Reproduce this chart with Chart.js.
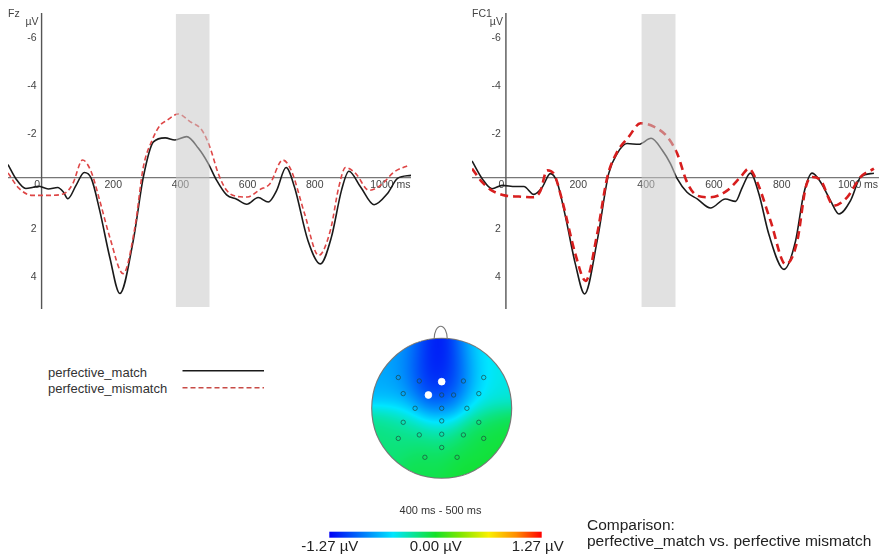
<!DOCTYPE html>
<html>
<head>
<meta charset="utf-8">
<script src="https://cdn.jsdelivr.net/npm/chart.js@4.4.1/dist/chart.umd.min.js"></script>
<style>
  body { margin: 0; background: #fff; width: 881px; height: 558px; overflow: hidden; position: relative;
         font-family: "Liberation Sans", Arial, sans-serif; color: #333; }
  .box { position: absolute; }
  .legtxt { position: absolute; left: 48px; font-size: 13px; line-height: 16px; }
  .cmp { position: absolute; left: 587px; top: 517px; font-size: 15.5px; line-height: 15.5px; color: #222; }
</style>
</head>
<body>
<div class="box" style="left:0;top:0;width:420px;height:320px"><canvas id="fz"></canvas></div>
<div class="box" style="left:440px;top:0;width:441px;height:320px"><canvas id="fc1"></canvas></div>
<div class="box" style="left:290px;top:320px;width:300px;height:238px"><canvas id="topo"></canvas></div>

<div class="legtxt" style="top:365px">perfective_match</div>
<div class="legtxt" style="top:381px">perfective_mismatch</div>
<svg class="box" style="left:182px;top:364px" width="84" height="30">
  <line x1="0.5" y1="6.7" x2="82" y2="6.7" stroke="#1a1a1a" stroke-width="1.6"/>
  <line x1="0.5" y1="23.7" x2="82" y2="23.7" stroke="rgb(200,75,70)" stroke-width="1.5" stroke-dasharray="5,3"/>
</svg>
<div class="cmp">Comparison:<br>perfective_match vs. perfective mismatch</div>

<script>
// ERP waveforms, [ms, µV] pairs (negative is plotted up)
const fzMatch = [[-100,-0.55],[-77,0.03],[-47,0.45],[-25,0.4],[-10,0.36],[20,0.47],[48,0.41],[65,0.6],[78,0.88],
  [103,0.31],[127,-0.22],[148,0.03],[173,1.37],[203,3.33],[233,4.85],[273,2.63],[303,-0.03],[333,-1.5],[368,-1.67],
  [397,-1.58],[432,-1.72],[467,-1.23],[496,-0.6],[521,0.1],[551,0.72],[581,0.9],[611,1.11],[645,0.83],[675,1.02],
  [700,0.53],[728,-0.43],[753,0.39],[793,2.63],[830,3.61],[863,2.49],[893,0.53],[915,-0.27],[950,0.39],[990,1.13],
  [1030,0.66],[1060,0.03],[1100,-0.1]];
const fzMismatch = [[-100,-0.2],[-67,0.45],[-27,0.74],[23,0.74],[68,0.66],[93,0.25],[122,-0.74],[148,-0.24],
  [173,0.95],[203,2.49],[243,4.02],[278,2.07],[303,-0.45],[330,-1.6],[353,-2.2],[373,-2.4],[407,-2.67],[442,-2.35],
  [477,-2.0],[501,-1.29],[526,-0.18],[551,0.53],[591,0.8],[613,0.81],[650,0.5],[680,0.25],[718,-0.74],[743,-0.32],
  [783,1.5],[825,3.26],[860,2.2],[885,0.39],[905,-0.43],[935,-0.18],[975,0.53],[1010,0.31],[1050,-0.24],[1095,-0.53]];
const fc1Match = [[-100,-0.7],[-70,0.04],[-41,0.46],[-11,0.32],[28,0.37],[53,0.37],[82,0.7],[107,0.4],[131,-0.17],
  [151,0.19],[176,1.66],[205,3.63],[232,4.87],[269,2.65],[303,-0.17],[328,-1.01],[357,-1.43],[392,-1.4],[428,-1.65],
  [461,-1.15],[485,-0.59],[505,0.04],[534,0.61],[564,0.89],[603,1.27],[647,0.89],[677,0.99],[697,0.4],[721,-0.19],
  [746,0.68],[775,2.36],[820,3.84],[854,2.65],[878,0.68],[903,-0.19],[928,0.19],[957,0.96],[982,1.52],[1016,0.96],
  [1046,-0.03],[1085,-0.19]];
const fc1Mismatch = [[-100,-0.38],[-70,0.19],[-41,0.54],[-1,0.75],[38,0.79],[82,0.82],[102,0.54],[121,-0.31],
  [141,-0.17],[166,0.96],[205,3.21],[235,4.32],[269,2.36],[299,-0.03],[328,-1.08],[362,-1.71],[397,-2.28],[436,-2.14],
  [476,-1.71],[505,-1.01],[534,0.19],[564,0.75],[603,0.82],[652,0.54],[692,-0.03],[716,-0.38],[741,0.19],[780,1.8],
  [825,3.63],[859,2.65],[884,0.4],[903,-0.03],[928,0.11],[967,1.17],[1006,0.82],[1046,-0.03],[1085,-0.38]];

const xTicks = [0, 200, 400, 600, 800, 1000];
const yTicks = [-6, -4, -2, 2, 4];
const timeWin = [400, 500];

// electrodes on the head (unit circle, nose up) and difference values in µV
const elecX = [-0.62,-0.32,0,0.31,0.6, -0.55,-0.19,0,0.17,0.53, -0.38,0,0.36, -0.55,0,0.53, -0.62,-0.32,0,0.31,0.6, 0, -0.24,0.22];
const elecY = [0.44,0.39,0.38,0.39,0.44, 0.21,0.19,0.19,0.19,0.21, 0,0,0, -0.2,-0.18,-0.2, -0.43,-0.38,-0.37,-0.38,-0.43, -0.56, -0.7,-0.7];
const elecVal = [-0.72,-1.1,-1.27,-0.95,-0.45, -0.62,-1.1,-1.1,-0.95,-0.4, -0.58,-0.8,-0.5, -0.28,-0.5,-0.12,
  -0.18,-0.22,-0.3,-0.12,-0.03, -0.15, -0.08,-0.02];
const elecMarked = [2, 6]; // Fz, FC1
const mapMin = -1.27, mapMax = 1.27;
const barLabels = ['-1.27 µV', '0.00 µV', '1.27 µV'];
const mapStops = [0, 0.3, 0.5, 0.62, 0.75, 0.88, 1];
const mapColors = [[0,0,245],[0,230,255],[20,225,40],[130,230,0],[250,240,0],[255,140,0],[255,0,0]];

const FONT = '"Liberation Sans", Arial, sans-serif';

const erpPlugin = {
  id: 'erp',
  beforeDatasetsDraw(chart, args, opts) {
    const {ctx, chartArea: a, scales: {x, y}} = chart;
    const x0 = x.getPixelForValue(0), y0 = y.getPixelForValue(0);
    ctx.save();
    ctx.strokeStyle = '#555';
    ctx.lineWidth = 1;
    ctx.beginPath(); ctx.moveTo(a.left, y0); ctx.lineTo(a.right, y0); ctx.stroke();
    ctx.lineWidth = 1.4;
    ctx.beginPath(); ctx.moveTo(x0, a.top); ctx.lineTo(x0, a.bottom); ctx.stroke();

    ctx.fillStyle = '#444';
    ctx.font = '10.5px ' + FONT;
    ctx.textBaseline = 'middle';
    ctx.textAlign = 'right';
    yTicks.forEach(v => ctx.fillText(String(v), x0 - 5, y.getPixelForValue(v) + 4));
    ctx.textAlign = 'center';
    xTicks.forEach(t => ctx.fillText(String(t), x.getPixelForValue(t) + (t === 0 ? -4.5 : 4.5), y0 + 7));
    ctx.textAlign = 'left';
    ctx.fillText('ms', x.getPixelForValue(1000) + 19, y0 + 7);
    ctx.fillText(opts.title, a.left, 14);
    ctx.textAlign = 'right';
    ctx.fillText('µV', x0 - 3, 22);
    ctx.restore();
  },
  afterDatasetsDraw(chart) {
    const {ctx, chartArea: a, scales: {x}} = chart;
    const l = x.getPixelForValue(timeWin[0]), r = x.getPixelForValue(timeWin[1]);
    ctx.save();
    ctx.fillStyle = 'rgba(200,200,200,0.55)';
    ctx.fillRect(l, a.top + 1, r - l, a.bottom - a.top - 3);
    ctx.restore();
  }
};

function toXY(arr) { return arr.map(([t, v]) => ({x: t, y: v})); }

function makeErp(id, title, match, mismatch, red, redWidth, redDash, pad, xMax) {
  return new Chart(document.getElementById(id), {
    type: 'line',
    data: {
      datasets: [
        { data: toXY(mismatch), borderColor: red, borderWidth: redWidth, borderDash: redDash,
          pointRadius: 0, cubicInterpolationMode: 'monotone', fill: false },
        { data: toXY(match), borderColor: '#1a1a1a', borderWidth: 1.6,
          pointRadius: 0, cubicInterpolationMode: 'monotone', fill: false }
      ]
    },
    options: {
      responsive: true, maintainAspectRatio: false, animation: false,
      layout: { padding: pad },
      scales: {
        x: { type: 'linear', min: -100, max: xMax, display: false },
        y: { min: -6.9, max: 5.5, reverse: true, display: false }
      },
      plugins: { legend: { display: false }, tooltip: { enabled: false }, erp: { title: title } }
    },
    plugins: [erpPlugin]
  });
}

makeErp('fz', 'Fz', fzMatch, fzMismatch, 'rgb(222,70,70)', 1.6, [5, 3],
  { left: 8, right: 9, top: 13, bottom: 11 }, 1100);
makeErp('fc1', 'FC1', fc1Match, fc1Mismatch, 'rgb(215,30,30)', 2.6, [8, 5],
  { left: 32, right: 2, top: 13, bottom: 11 }, 1100);

function mapColor(v) {
  let p = (v - mapMin) / (mapMax - mapMin);
  p = Math.max(0, Math.min(1, p));
  for (let i = 1; i < mapStops.length; i++) {
    if (p <= mapStops[i]) {
      const f = (p - mapStops[i - 1]) / (mapStops[i] - mapStops[i - 1]);
      const c0 = mapColors[i - 1], c1 = mapColors[i];
      return [0, 1, 2].map(k => Math.round(c0[k] + (c1[k] - c0[k]) * f));
    }
  }
  return mapColors[mapColors.length - 1];
}

// smooth field between electrodes (gaussian-weighted average)
const SIG2 = 2 * 0.2 * 0.2;
function fieldAt(ux, uy) {
  let sw = 0, sv = 0;
  for (let k = 0; k < elecX.length; k++) {
    const d2 = (ux - elecX[k]) ** 2 + (uy - elecY[k]) ** 2;
    const wk = Math.exp(-d2 / SIG2) + 1e-12;
    sw += wk; sv += wk * elecVal[k];
  }
  return sv / sw;
}

const topoPlugin = {
  id: 'topo',
  beforeDatasetsDraw(chart) {
    const {ctx, scales: {x, y}} = chart;
    const cx = x.getPixelForValue(0), cy = y.getPixelForValue(0);
    const rad = x.getPixelForValue(1) - cx;
    const x0 = Math.floor(cx - rad), y0 = Math.floor(cy - rad);
    const w = Math.ceil(2 * rad) + 1, h = Math.ceil(2 * rad) + 1;
    const img = ctx.createImageData(w, h);
    for (let j = 0; j < h; j++) {
      for (let i = 0; i < w; i++) {
        const ux = x.getValueForPixel(x0 + i + 0.5), uy = y.getValueForPixel(y0 + j + 0.5);
        if (ux * ux + uy * uy > 1.0) continue;
        const c = mapColor(fieldAt(ux, uy));
        const o = (j * w + i) * 4;
        img.data[o] = c[0]; img.data[o + 1] = c[1]; img.data[o + 2] = c[2]; img.data[o + 3] = 255;
      }
    }
    ctx.putImageData(img, x0, y0);
    ctx.save();
    ctx.strokeStyle = '#777';
    ctx.lineWidth = 1.1;
    ctx.beginPath(); ctx.arc(cx, cy, rad, 0, Math.PI * 2); ctx.stroke();
    ctx.beginPath(); ctx.ellipse(cx - 1, cy - rad + 1, 6.6, 13, 0, Math.PI, Math.PI * 2); ctx.stroke();
    ctx.restore();
  },
  afterDraw(chart) {
    const {ctx} = chart;
    const bl = 39.3, br = 251.7, bt = 211.7, bh = 6;
    ctx.save();
    const g = ctx.createLinearGradient(bl, 0, br, 0);
    mapStops.forEach((s, i) => g.addColorStop(s, 'rgb(' + mapColors[i].join(',') + ')'));
    ctx.fillStyle = g;
    ctx.fillRect(bl, bt, br - bl, bh);
    ctx.fillStyle = '#333';
    ctx.textBaseline = 'middle';
    ctx.textAlign = 'center';
    ctx.font = '11px ' + FONT;
    ctx.fillText(timeWin[0] + ' ms - ' + timeWin[1] + ' ms', 150.5, 191);
    ctx.font = '15px ' + FONT;
    ctx.fillStyle = '#222';
    ctx.fillText(barLabels[0], bl + 0.5, 227);
    ctx.fillText(barLabels[1], (bl + br) / 2 + 0.3, 227);
    ctx.fillText(barLabels[2], br - 4, 227);
    ctx.restore();
  }
};

new Chart(document.getElementById('topo'), {
  type: 'scatter',
  data: {
    datasets: [{
      data: elecX.map((ex, i) => ({x: ex, y: elecY[i]})),
      pointRadius: elecX.map((_, i) => elecMarked.includes(i) ? 3.4 : 2.2),
      pointBackgroundColor: elecX.map((_, i) => elecMarked.includes(i) ? '#fff' : 'rgba(0,0,0,0)'),
      pointBorderColor: elecX.map((_, i) => elecMarked.includes(i) ? '#fff' : 'rgba(30,70,60,0.85)'),
      pointBorderWidth: 0.8
    }]
  },
  options: {
    responsive: true, maintainAspectRatio: false, animation: false,
    layout: { padding: { left: 81.7, right: 78.3, top: 18.3, bottom: 79.7 } },
    scales: {
      x: { type: 'linear', min: -1, max: 1, display: false },
      y: { type: 'linear', min: -1, max: 1, display: false }
    },
    plugins: { legend: { display: false }, tooltip: { enabled: false } }
  },
  plugins: [topoPlugin]
});
</script>
</body>
</html>
